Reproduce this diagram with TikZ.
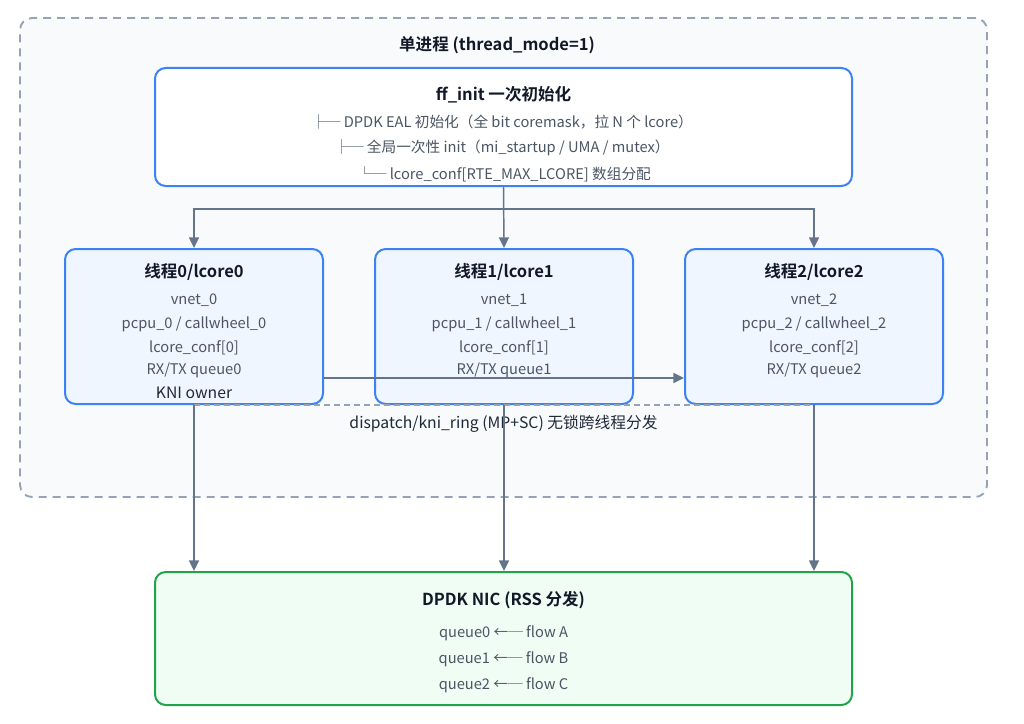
\documentclass[tikz,border=0pt]{standalone}
\usepackage{fontspec}
\setmainfont{Noto Sans CJK SC}[BoldFont={Noto Sans CJK SC Bold}]
\usetikzlibrary{arrows.meta}
\definecolor{outerfill}{HTML}{F8FAFC}
\definecolor{outerdraw}{HTML}{94A3B8}
\definecolor{bluedraw}{HTML}{3B82F6}
\definecolor{bluefill}{HTML}{EFF6FF}
\definecolor{greendraw}{HTML}{22A34A}
\definecolor{greenfill}{HTML}{F0FDF4}
\definecolor{arrowc}{HTML}{64748B}
\definecolor{titlec}{HTML}{111827}
\definecolor{bodyc}{HTML}{4B5563}
\definecolor{darkc}{HTML}{1F2937}
\begin{document}
\begin{tikzpicture}[x=0.75pt,y=-0.75pt,
  outerbox/.style={draw=outerdraw,fill=outerfill,line width=1.4pt,dash pattern=on 6pt off 4.5pt,rounded corners=9pt,minimum width=725.25pt,minimum height=359.25pt,inner sep=0pt},
  initbox/.style={draw=bluedraw,fill=white,line width=1.5pt,rounded corners=8pt,inner sep=0pt},
  corebox/.style={draw=bluedraw,fill=bluefill,line width=1.5pt,rounded corners=8pt,inner sep=0pt,minimum width=193.5pt,minimum height=116.25pt},
  nicbox/.style={draw=greendraw,fill=greenfill,line width=1.5pt,rounded corners=8pt,inner sep=0pt},
  ttl/.style={font=\bfseries\fontsize{12.4}{14}\selectfont,text=titlec,inner sep=0pt},
  body/.style={font=\fontsize{11}{13}\selectfont,text=bodyc,inner sep=0pt},
  bodydark/.style={font=\fontsize{11.8}{13}\selectfont,text=darkc,inner sep=0pt},
  conn/.style={draw=arrowc,line width=1.1pt},
  arr/.style={conn,-{Triangle[length=8pt,width=7.5pt]}},
  dashconn/.style={draw=outerdraw,line width=1pt,dash pattern=on 4.5pt off 3pt}
]
\useasboundingbox (0,0) rectangle (1024,724);
\fill[white] (0,0) rectangle (1024,724);

\node[outerbox] (outer) at (503.5,257.5) {};
\node[ttl] (outertitle) at (497,45) {单进程 (thread\_mode=1)};

\node[initbox,minimum width=522.75pt,minimum height=88.5pt] (ff) at (503.5,127) {};
\node[ttl] (fft) at (503.5,95) {ff\_init 一次初始化};
\node[body] (ff1) at (502,122) {├─ DPDK EAL 初始化（全 bit coremask，拉 N 个 lcore）};
\node[body] (ff2) at (502,148) {├─ 全局一次性 init（mi\_startup / UMA / mutex）};
\node[body] (ff3) at (504,174) {└─ lcore\_conf[RTE\_MAX\_LCORE] 数组分配};

\node[corebox] (l0) at (194,326.5) {};
\node[corebox] (l1) at (504,326.5) {};
\node[corebox] (l2) at (814,326.5) {};

\foreach \i/\x in {0/194,1/504,2/814}{
  \node[ttl] (t\i) at (\x,272) {线程\i/lcore\i};
  \node[body] (a\i) at (\x,300) {vnet\_\i};
  \node[body] (b\i) at (\x,324) {pcpu\_\i\ / callwheel\_\i};
  \node[body] (c\i) at (\x,348) {lcore\_conf[\i]};
  \node[body] (d\i) at (\x,370) {RX/TX queue\i};
}
\node[bodydark] (kni) at (194,393) {KNI owner};

\node[nicbox,minimum width=522.75pt,minimum height=99.75pt] (nic) at (503.5,638.5) {};
\node[ttl] (nict) at (503.5,600) {DPDK NIC (RSS 分发)};
\node[body] (n0) at (503.5,633) {queue0 ←─ flow A};
\node[body] (n1) at (503.5,659) {queue1 ←─ flow B};
\node[body] (n2) at (503.5,685) {queue2 ←─ flow C};

% ff_init to cores
\path (ff.south) ++(0,22) coordinate (j);
\draw[arr] (ff.south) -- (l1.north);
\draw[arr] (j) -| (l0.north);
\draw[arr] (j) -| (l2.north);

% horizontal lcore0 -> lcore2
\coordinate (h0) at (l0.east |- 0,378);
\coordinate (h2) at (l2.west |- 0,378);
\draw[arr] (h0) -- (h2);

% dashed dispatch ring
\draw[dashconn] (l0.south) -- (l2.south);
\node[bodydark] (disp) at (503.5,424) {dispatch/kni\_ring (MP+SC) 无锁跨线程分发};

% cores to NIC
\draw[arr] (l0.south) -- (l0.south |- nic.north);
\draw[arr] (l1.south) -- (l1.south |- nic.north);
\draw[arr] (l2.south) -- (l2.south |- nic.north);
\end{tikzpicture}
\end{document}
